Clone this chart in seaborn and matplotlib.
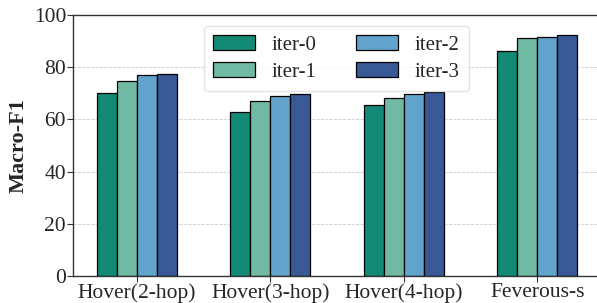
import numpy as np
import pandas as pd
import matplotlib
matplotlib.use("Agg")
import matplotlib.pyplot as plt
import seaborn as sns

datasets = ["Hover(2-hop)", "Hover(3-hop)", "Hover(4-hop)", "Feverous-s"]
iters = ["iter-0", "iter-1", "iter-2", "iter-3"]
iter0 = [70.2, 62.9, 65.5, 86.2]
iter1 = [74.6, 67.0, 68.3, 91.3]
iter2 = [76.9, 68.8, 69.6, 91.7]
iter3 = [77.5, 69.7, 70.5, 92.3]
colors = ["#138a76", "#6fb9a5", "#62a3cb", "#385995"]

df = pd.DataFrame({
    "dataset": datasets * 4,
    "iter": np.repeat(iters, len(datasets)),
    "score": iter0 + iter1 + iter2 + iter3,
})

sns.set_theme(style="white")
plt.rcParams["font.family"] = ["Liberation Serif", "DejaVu Serif"]

fig = plt.figure(figsize=(5.97, 3.03), dpi=100)
ax = fig.add_axes([73 / 597, 27 / 303, (604 - 73) / 597, 261 / 303])

sns.barplot(data=df, x="dataset", y="score", hue="iter", palette=colors,
            saturation=1, width=0.6, gap=0, edgecolor="black", linewidth=0.9, ax=ax)

ax.set_xlim(-0.48, 3.5)
ax.set_ylim(0, 100)
ax.set_yticks([0, 20, 40, 60, 80, 100])
ax.yaxis.grid(True, linestyle="--", color="#cccccc", linewidth=0.6)
ax.set_axisbelow(True)
ax.set_xlabel("")
ax.set_ylabel("Macro-F1", fontsize=16, fontweight="bold")
ax.tick_params(axis="both", labelsize=15.5, length=4, width=0.8, color="#333333",
               direction="out", bottom=True, left=True, pad=1)
for s in ax.spines.values():
    s.set_color("#333333")
    s.set_linewidth(1.0)

ax.legend(ncol=2, loc="upper center", bbox_to_anchor=(0.496, 0.958),
          borderaxespad=0, fontsize=15, frameon=True, fancybox=True,
          edgecolor="#dddddd", handlelength=2.0, handleheight=0.72,
          columnspacing=1.9, handletextpad=0.8, labelspacing=0.35,
          borderpad=0.45)

fig.savefig("out.png", dpi=100)
